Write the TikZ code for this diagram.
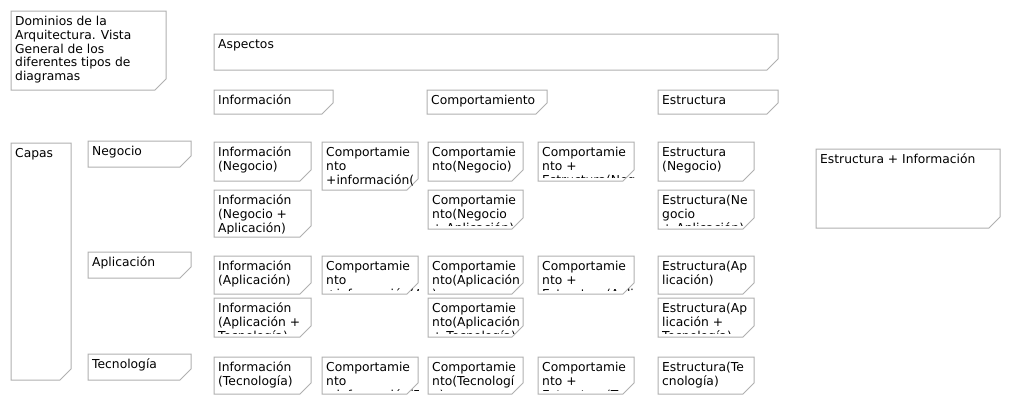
\documentclass[tikz,border=0pt]{standalone}
\usepackage{fontspec}
\setmainfont{DejaVu Sans}
\definecolor{boxgray}{HTML}{B0B0B0}
\tikzset{
  notebox/.style={draw=boxgray, fill=white, line width=1pt},
  notetext/.style={anchor=base west, inner sep=0pt, font=\fontsize{12.3}{13.8}\selectfont, text=black},
}
\newcommand\notebx[6]{%
  \path[notebox] (#2,#3) -- (#4,#3) -- (#4,#5-11) -- (#4-11,#5) -- (#2,#5) -- cycle;
  \begin{scope}
    \clip (#2,#3) rectangle (#4,#5-3.6);
    \node[notetext] (#1) at (#2+4,#3+14.5) {\parbox[t]{300pt}{\raggedright #6}};
  \end{scope}}
\begin{document}
\begin{tikzpicture}[x=1pt,y=-1pt]
\useasboundingbox[fill=white] (0,0) rectangle (1010,405);
% header
\notebx{title}{11}{11}{166}{90}{Dominios de la\\Arquitectura. Vista\\General de los\\diferentes tipos de\\diagramas}
\notebx{aspectos}{214}{34}{778}{70}{Aspectos}
\notebx{hinfo}{214}{90}{333}{114}{Información}
\notebx{hcomp}{427}{90}{547}{114}{Comportamiento}
\notebx{hestr}{658}{90}{778}{114}{Estructura}
% layers
\notebx{capas}{11}{143}{71}{380}{Capas}
\notebx{negocio}{88}{141}{191}{167}{Negocio}
\notebx{aplicacion}{88}{252}{191}{278}{Aplicación}
\notebx{tecnologia}{88}{354}{191}{380}{Tecnología}
% right
\notebx{estrinfo}{816}{149}{1000}{228}{Estructura + Información}
% Negocio
\notebx{nA1}{214}{142}{311}{181}{Información\\(Negocio)}
\notebx{nB1}{322}{142}{418}{190}{Comportamie\\nto\\+información(\\Negocio)}
\notebx{nC1}{428}{142}{523}{181}{Comportamie\\nto(Negocio)}
\notebx{nD1}{538}{142}{634}{181}{Comportamie\\nto +\\Estructura(Negocio)}
\notebx{nE1}{658}{142}{754}{181}{Estructura\\(Negocio)}
\notebx{nA2}{214}{190}{311}{237}{Información\\(Negocio +\\Aplicación)}
\notebx{nC2}{428}{190}{523}{229}{Comportamie\\nto(Negocio\\+ Aplicación)}
\notebx{nE2}{658}{190}{754}{229}{Estructura(Ne\\gocio\\+ Aplicación)}
% Aplicacion
\notebx{aA1}{214}{256}{311}{294}{Información\\(Aplicación)}
\notebx{aB1}{322}{256}{418}{294}{Comportamie\\nto\\+información(Aplicación)}
\notebx{aC1}{428}{256}{523}{294}{Comportamie\\nto(Aplicación\\)}
\notebx{aD1}{538}{256}{634}{294}{Comportamie\\nto +\\Estructura(Aplicación)}
\notebx{aE1}{658}{256}{754}{294}{Estructura(Ap\\licación)}
\notebx{aA2}{214}{298}{311}{337}{Información\\(Aplicación +\\Tecnología)}
\notebx{aC2}{428}{298}{523}{337}{Comportamie\\nto(Aplicación\\+ Tecnología)}
\notebx{aE2}{658}{298}{754}{337}{Estructura(Ap\\licación +\\Tecnología)}
% Tecnologia
\notebx{tA}{214}{357}{311}{394}{Información\\(Tecnología)}
\notebx{tB}{322}{357}{418}{394}{Comportamie\\nto\\+información(Tecnología)}
\notebx{tC}{428}{357}{523}{394}{Comportamie\\nto(Tecnologí\\a)}
\notebx{tD}{538}{357}{634}{394}{Comportamie\\nto +\\Estructura(Tecnología)}
\notebx{tE}{658}{357}{754}{394}{Estructura(Te\\cnología)}
\end{tikzpicture}
\end{document}
